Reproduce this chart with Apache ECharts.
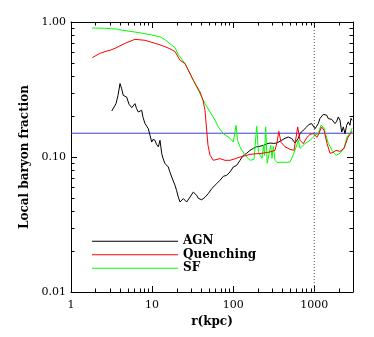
<!DOCTYPE html>
<html><head><meta charset="utf-8">
<script src="https://cdn.jsdelivr.net/npm/echarts@6/dist/echarts.min.js"></script>
<style>html,body{margin:0;padding:0;background:#fff}#c{width:374px;height:337px}</style>
</head><body><div id="c"></div>
<script>
// ---- data ----
const agnR = [3.18,3.59,3.80,4.02,4.20,4.41,4.86,5.19,5.61,5.81,6.15,6.42,6.76,7.09,7.44,7.72,8.17,8.58,8.98,9.42,9.89,10.26,10.86,11.34,11.93,12.51,13.14,13.63,14.43,15.05,15.84,16.62,17.45,18.1,19.16,20.0,21.04,22.08,23.17,24.25,25.45,26.71,27.96,29.33,30.78,32.21,33.81,35.48,37.13,38.96,40.89,42.79,44.91,49.3,54.3,56.9,62.6,68.7,75.5,83.2,91.3,100.3,110.5,121.3,133.2,146.7,161.1,176.9,194.9,214.1,235,258.8,284.3,312.2,344,359.8,396.3,435.3,478,526.5,578.1,606.7,635,666.4,731.6,806,860.3,928.9,963.9,1020,1071,1120,1176,1234,1291,1355,1422,1488,1562,1639,1715,1800,1889,1977,2075,2177,2279,2391,2508,2625,2755,2835,2917];
const agnF = [0.219,0.2485,0.286,0.350,0.323,0.286,0.278,0.246,0.232,0.237,0.2485,0.229,0.2155,0.222,0.222,0.197,0.177,0.181,0.162,0.145,0.129,0.135,0.133,0.124,0.119,0.133,0.106,0.0978,0.0894,0.0898,0.0843,0.077,0.0711,0.0707,0.0617,0.0567,0.0505,0.0464,0.0464,0.0492,0.0486,0.0464,0.0456,0.0505,0.0505,0.055,0.0538,0.052,0.0494,0.0478,0.0482,0.0492,0.0503,0.0536,0.0583,0.0583,0.0635,0.0672,0.0719,0.0732,0.0774,0.0843,0.0868,0.0945,0.103,0.1065,0.112,0.116,0.119,0.120,0.122,0.125,0.127,0.126,0.127,0.129,0.133,0.1375,0.1406,0.137,0.127,0.1256,0.1375,0.149,0.158,0.167,0.1746,0.1767,0.172,0.162,0.169,0.177,0.1935,0.198,0.207,0.21,0.204,0.1925,0.187,0.190,0.1925,0.177,0.184,0.198,0.187,0.153,0.167,0.149,0.172,0.182,0.172,0.1935,0.187];

const quenR = [1.83,2.28,2.63,3.03,3.49,4.02,4.63,5.34,6.15,7.09,8.17,9.42,10.9,12.5,14.4,16.6,19.2,22.1,25.5,32.2,39.0,42.4,44.9,47.1,48.9,51.8,56.9,68.7,79.2,91.3,105.2,121.3,139.8,161.1,185.7,214.1,246.6,284.3,327.6,346.8,365,388.6,435.3,501.7,562.1,624.2,666.4,731.6,812.8,885.1,972.1,1080,1143,1227,1317,1434,1562,1701,1852,2075,2324,2603,2917];
const quenF = [0.545,0.586,0.604,0.617,0.638,0.666,0.695,0.719,0.744,0.738,0.732,0.713,0.695,0.678,0.657,0.633,0.604,0.520,0.492,0.370,0.303,0.263,0.222,0.158,0.122,0.103,0.0945,0.0973,0.0945,0.0945,0.097,0.100,0.102,0.1047,0.1056,0.106,0.1074,0.109,0.112,0.1285,0.155,0.1285,0.119,0.114,0.112,0.167,0.133,0.1256,0.140,0.147,0.149,0.140,0.150,0.167,0.158,0.126,0.1065,0.108,0.112,0.110,0.116,0.140,0.155];

const sfR = [1.82,2.63,3.20,3.69,4.02,5.34,7.09,9.89,12.5,14.4,16.6,19.2,21.0,25.5,32.2,40.9,44.9,51.8,59.7,65.5,75.5,91.3,100.3,105.2,108.3,113,121.3,139.8,161.1,180.5,194.9,205.1,226.5,236.4,243.2,251.6,262.6,290,300.9,312.2,327.6,346.8,435.3,501.7,546.3,578.1,635,666.4,767.8,885.1,1020,1120,1209,1306,1394,1488,1653,1852,2075,2324,2530,2755,2917];
const sfF = [0.903,0.898,0.890,0.887,0.875,0.853,0.832,0.801,0.777,0.740,0.690,0.645,0.575,0.492,0.370,0.278,0.250,0.2155,0.187,0.167,0.149,0.1375,0.129,0.133,0.172,0.133,0.119,0.103,0.0945,0.0962,0.169,0.108,0.0978,0.122,0.103,0.167,0.0898,0.122,0.0978,0.120,0.0945,0.0913,0.0913,0.0918,0.103,0.112,0.133,0.116,0.1256,0.133,0.1447,0.149,0.172,0.166,0.1447,0.1263,0.112,0.103,0.1065,0.116,0.1406,0.1498,0.163];

const seriesNames = ['AGN','Quenching','SF'];
const seriesColors = ['#000000','#ff0000','#00ff00'];
const baryonFraction = 0.15;   // horizontal reference line
const virialRadius = 1000;     // vertical dotted line
const xExtent = [1, 3000];
const yExtent = [0.01, 1];
const xTickValues = [1, 10, 100, 1000];
const xTickLabels = ['1', '10', '100', '1000'];
const yTickValues = [0.01, 0.1, 1];
const yTickLabels = ['0.01', '0.10', '1.00'];
const xMinorTicks = [2,3,4,5,6,7,8,9,20,30,40,50,60,70,80,90,200,300,400,500,600,700,800,900,2000];
const yMinorTicks = [0.02,0.03,0.04,0.05,0.06,0.07,0.08,0.09,0.2,0.3,0.4,0.5,0.6,0.7,0.8,0.9];
// ---------------------------------------

const FONT = 'DejaVu Serif';
function labelFor(vals, labels) {
  return function (v) {
    for (let i = 0; i < vals.length; i++) {
      if (Math.abs(Math.log10(v) - Math.log10(vals[i])) < 1e-6) return labels[i];
    }
    return '';
  };
}
const pairs = (r, f) => r.map((x, i) => [x, f[i]]);

const axisCommon = {
  type: 'log', logBase: 10,
  axisLine: { show: true, onZero: false, lineStyle: { color: '#000', width: 1 } },
  axisTick: { show: true, inside: true, length: 6, lineStyle: { color: '#000', width: 1 } },
  splitLine: { show: false },
  minorTick: { show: false }
};

const chart = echarts.init(document.getElementById('c'), null, { renderer: 'canvas' });
const MINOR = 3.5;
chart.setOption({
  animation: false,
  backgroundColor: '#fff',
  grid: { left: 71, right: 21, top: 22, bottom: 45 },
  xAxis: [
    Object.assign({}, axisCommon, {
      position: 'bottom', min: xExtent[0], max: xExtent[1],
      axisLabel: { show: true, margin: 8, color: '#000', fontFamily: FONT, fontSize: 11,
        formatter: labelFor(xTickValues, xTickLabels), showMinLabel: true, showMaxLabel: true },
      name: 'r(kpc)', nameLocation: 'middle', nameGap: 22,
      nameTextStyle: { color: '#000', fontFamily: FONT, fontWeight: 'bold', fontSize: 12 }
    }),
    Object.assign({}, axisCommon, {
      position: 'top', min: xExtent[0], max: xExtent[1], axisLabel: { show: false }
    })
  ],
  yAxis: [
    Object.assign({}, axisCommon, {
      position: 'left', min: yExtent[0], max: yExtent[1],
      axisLabel: { show: true, margin: 5, color: '#000', fontFamily: FONT, fontSize: 11,
        formatter: labelFor(yTickValues, yTickLabels) },
      name: 'Local baryon fraction', nameLocation: 'middle', nameGap: 36,
      nameTextStyle: { color: '#000', fontFamily: FONT, fontWeight: 'bold', fontSize: 12 }
    }),
    Object.assign({}, axisCommon, {
      position: 'right', min: yExtent[0], max: yExtent[1], axisLabel: { show: false }
    })
  ],
  legend: {
    data: seriesNames.map(n => ({ name: n, icon: 'rect' })),
    orient: 'vertical', left: 92, top: 235.3, padding: 0,
    itemWidth: 86, itemHeight: 1, itemGap: 1.5, selectedMode: false,
    textStyle: { color: '#000', fontFamily: FONT, fontWeight: 'bold', fontSize: 12, lineHeight: 12 }
  },
  series: [
    {
      name: 'fb', type: 'line', symbol: 'none', silent: true, z: 2,
      data: [[xExtent[0], baryonFraction], [xExtent[1], baryonFraction]],
      lineStyle: { color: '#3c3cd8', width: 1 }, itemStyle: { color: '#3c3cd8' }
    },
    {
      name: 'rvir', type: 'line', symbol: 'none', silent: true, z: 2,
      data: [[virialRadius, yExtent[0]], [virialRadius, yExtent[1]]],
      lineStyle: { color: '#555', width: 1, type: [1, 2] }, itemStyle: { color: '#555' }
    },
    {
      name: seriesNames[0], type: 'line', data: pairs(agnR, agnF), symbol: 'none',
      lineStyle: { color: seriesColors[0], width: 1 }, itemStyle: { color: seriesColors[0] }, z: 3
    },
    {
      name: seriesNames[2], type: 'line', data: pairs(sfR, sfF), symbol: 'none',
      lineStyle: { color: seriesColors[2], width: 1 }, itemStyle: { color: seriesColors[2] }, z: 4
    },
    {
      name: seriesNames[1], type: 'line', data: pairs(quenR, quenF), symbol: 'none',
      lineStyle: { color: seriesColors[1], width: 1 }, itemStyle: { color: seriesColors[1] }, z: 5
    },
    {
      type: 'custom', silent: true, clip: false, z: 10,
      data: xMinorTicks.map(v => [v, yExtent[0]]),
      renderItem: function (params, api) {
        const v = api.value(0);
        const b = api.coord([v, yExtent[0]]);
        const t = api.coord([v, yExtent[1]]);
        const x = Math.round(b[0]) + 0.5;
        return { type: 'group', children: [
          { type: 'line', shape: { x1: x, y1: b[1], x2: x, y2: b[1] - MINOR }, style: { stroke: '#000', lineWidth: 1 } },
          { type: 'line', shape: { x1: x, y1: t[1], x2: x, y2: t[1] + MINOR }, style: { stroke: '#000', lineWidth: 1 } }
        ] };
      }
    },
    {
      type: 'custom', silent: true, clip: false, z: 10,
      data: yMinorTicks.map(v => [xExtent[0], v]),
      renderItem: function (params, api) {
        const v = api.value(1);
        const l = api.coord([xExtent[0], v]);
        const r = api.coord([xExtent[1], v]);
        const y = Math.round(l[1]) + 0.5;
        return { type: 'group', children: [
          { type: 'line', shape: { x1: l[0], y1: y, x2: l[0] + MINOR, y2: y }, style: { stroke: '#000', lineWidth: 1 } },
          { type: 'line', shape: { x1: r[0], y1: y, x2: r[0] - MINOR, y2: y }, style: { stroke: '#000', lineWidth: 1 } }
        ] };
      }
    }
  ]
});
</script>
</body></html>
